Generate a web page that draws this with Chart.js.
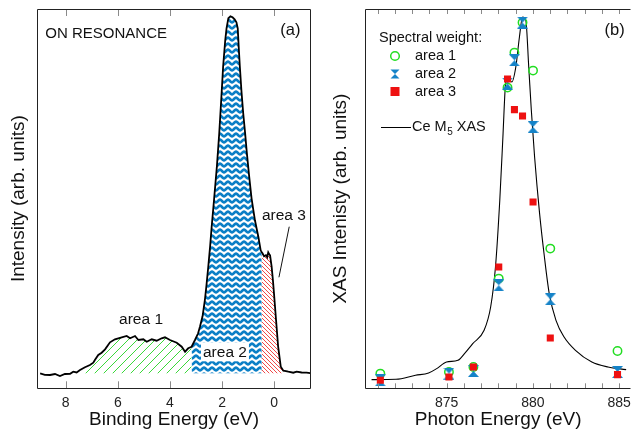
<!DOCTYPE html>
<html>
<head>
<meta charset="utf-8">
<script src="https://cdn.jsdelivr.net/npm/chart.js@4.4.0/dist/chart.umd.min.js"></script>
<style>
  body { margin: 0; background: #fff; }
  #wrap { position: relative; width: 637px; height: 435px; overflow: hidden; }
  canvas { position: absolute; top: 0; }
  #pes { left: 0; }
  #xas { left: 320px; }
</style>
</head>
<body>
<div id="wrap">
  <canvas id="pes" width="320" height="435"></canvas>
  <canvas id="xas" width="317" height="435"></canvas>
</div>
<script>
// (a) on-resonance spectrum
const bindingEnergy = [
  8.98, 8.80, 8.60, 8.41, 8.22, 8.03, 7.83, 7.71, 7.58, 7.45, 7.26, 7.07, 6.94, 6.88, 6.75, 6.62,
  6.49, 6.30, 6.11, 5.98, 5.85, 5.66, 5.53, 5.34, 5.21, 5.02, 4.89, 4.70, 4.51, 4.32, 4.19, 4.00,
  3.74, 3.55, 3.42, 3.30, 3.17, 3.04, 2.92, 2.85, 2.75, 2.66, 2.60, 2.53, 2.46, 2.40, 2.31, 2.20,
  2.11, 2.03, 1.96, 1.88, 1.83, 1.76, 1.68, 1.60, 1.52, 1.45, 1.40, 1.36, 1.32, 1.26, 1.19, 1.12,
  1.06, 0.97, 0.87, 0.80, 0.74, 0.67, 0.61, 0.52, 0.48, 0.45, 0.39, 0.32, 0.27, 0.23, 0.19, 0.16,
  0.10, 0.05, 0.01, -0.07, -0.15, -0.25, -0.35, -0.45, -0.54, -0.73, -0.86, -1.05, -1.24, -1.38
];
const intensity = [
  15, 13.5, 13.3, 14.3, 12.3, 14.3, 14.5, 16.6, 15.8, 18.3, 21, 23.3, 25.6, 28.3, 33.3, 35.6,
  39, 46, 49, 50, 51, 52.3, 50, 52.3, 48.3, 49, 46.6, 49, 47.6, 50, 51, 48.3,
  45.6, 41.6, 36.6, 40, 41.6, 48.3, 55, 61.6, 72, 88.3, 103, 121.6, 142, 161.6, 188.3, 222,
  255, 290, 322, 348, 360, 370, 372, 371, 369, 366, 360, 340, 322, 298, 275, 256,
  238, 214, 190, 178, 168, 159, 151.6, 138, 136, 135, 132, 133, 131, 136, 134, 133,
  121.6, 108, 95, 68, 41.6, 21.6, 17.6, 17.2, 16.6, 15.6, 16.6, 15.8, 15.6, 15.2
];
const pesBaseline = 15;
const area1Range = [7.26, 3.17];
const area2Range = [3.17, 0.48];
const area3Range = [0.48, -0.35];
const pesTicks = [8, 6, 4, 2, 0];

// (b) Ce M5 XAS and spectral weights
const xasEnergy = [
  870.64, 872.06, 873.19, 873.95, 874.42, 874.99, 875.65, 876.03, 876.51, 877.17, 877.55,
  877.83, 878.08, 878.27, 878.40, 878.53, 878.78, 879.01, 879.22, 879.40, 879.59, 879.76,
  879.91, 880.10, 880.39, 880.67, 880.95, 881.34, 881.81, 882.47, 883.42, 884.36, 885.41
];
const xasIntensity = [
  8.7, 9, 13, 15.3, 19.7, 26.3, 28, 34.7, 44.7, 58, 81.3,
  121.3, 188, 254.7, 301.3, 311.3, 306.3, 321.3, 351.3, 371.3, 368, 321.3,
  278, 231.3, 174.7, 131.3, 94.7, 68, 51.3, 38, 26.3, 21.3, 18.7
];
const photonEnergy = [871.15, 875.13, 876.55, 878.02, 878.53, 878.93, 879.40, 880.01, 881.01, 884.91];
const area1Weight = [14.7, 16.3, 21.3, 109.7, 300.7, 335.7, 365.7, 317.7, 139.7, 37.3];
const area2Weight = [8, 14.7, 17.3, 103, 304.7, 328, 365.7, 261.3, 89, 16.3];
const area3Weight = [8, 11.3, 21.3, 121.3, 309.3, 278.7, 272.3, 186.3, 50.3, 13.7];
const xasTicks = [875, 880, 885];
const xasMinorTicks = [871, 872, 873, 874, 875, 876, 877, 878, 879, 880, 881, 882, 883, 884, 885];

const FONT = '"Liberation Sans", Arial, Helvetica, sans-serif';
Chart.defaults.font.family = FONT;
Chart.defaults.color = '#111';
Chart.defaults.animation = false;

const GREEN = '#22dd22', BLUE = '#1583c8', RED = '#ee1111';

// fill patterns
function tilePattern(ctx, w, h, paint) {
  const c = document.createElement('canvas');
  c.width = w; c.height = h;
  paint(c.getContext('2d'), w, h);
  return ctx.createPattern(c, 'repeat');
}
const pesCtx = document.getElementById('pes').getContext('2d');
const xasCtx = document.getElementById('xas').getContext('2d');

const greenHatch = tilePattern(pesCtx, 9, 9, (g, w, h) => {
  g.strokeStyle = '#3ad83a'; g.lineWidth = 1;
  g.beginPath();
  g.moveTo(-1, h + 1); g.lineTo(w + 1, -1);
  g.moveTo(-1, 1); g.lineTo(1, -1);
  g.moveTo(w - 1, h + 1); g.lineTo(w + 1, h - 1);
  g.stroke();
});
const redHatch = tilePattern(pesCtx, 4, 4, (g, w, h) => {
  g.strokeStyle = '#f04a4a'; g.lineWidth = 1;
  g.beginPath();
  g.moveTo(-1, -1); g.lineTo(w + 1, h + 1);
  g.moveTo(w - 1, -1); g.lineTo(w + 1, 1);
  g.moveTo(-1, h - 1); g.lineTo(1, h + 1);
  g.stroke();
});
const blueWaves = tilePattern(pesCtx, 8, 6, (g, w, h) => {
  g.strokeStyle = '#0b7fc6'; g.lineWidth = 2.6;
  g.beginPath();
  for (let x = -1; x <= w + 1; x += 0.5) {
    const y = h / 2 + 1.3 * Math.cos(2 * Math.PI * x / w);
    x === -1 ? g.moveTo(x, y) : g.lineTo(x, y);
  }
  g.stroke();
});

// hourglass marker
function drawHourglass(g, cx, cy, w, h) {
  g.beginPath();
  g.moveTo(cx - w / 2, cy - h / 2); g.lineTo(cx + w / 2, cy - h / 2); g.lineTo(cx, cy);
  g.lineTo(cx + w / 2, cy + h / 2); g.lineTo(cx - w / 2, cy + h / 2); g.lineTo(cx, cy);
  g.closePath();
  g.fill();
}
const hourglass = document.createElement('canvas');
hourglass.width = 11; hourglass.height = 12;
{ const g = hourglass.getContext('2d'); g.fillStyle = BLUE; drawHourglass(g, 5.5, 6, 11, 12); }

// frame + mirrored ticks
function frame(ticks, len, right) {
  return {
    id: 'frame',
    afterDraw(chart) {
      const { ctx, chartArea: a, scales: { x } } = chart;
      ctx.save();
      ctx.strokeStyle = '#8a8a8a'; ctx.lineWidth = 1;
      ctx.beginPath();
      for (const v of ticks) {
        const px = Math.round(x.getPixelForValue(v)) + 0.5;
        ctx.moveTo(px, a.top); ctx.lineTo(px, a.top + len);
        ctx.moveTo(px, a.bottom); ctx.lineTo(px, a.bottom - len);
      }
      ctx.stroke();
      ctx.strokeStyle = '#222';
      ctx.beginPath();
      const l = Math.round(a.left) + 0.5, t = Math.round(a.top) + 0.5;
      const r = Math.round(a.right) - 0.5, b = Math.round(a.bottom) + 0.5;
      ctx.moveTo(r, t); ctx.lineTo(l, t); ctx.lineTo(l, b); ctx.lineTo(r, b);
      if (right) ctx.lineTo(r, t);
      ctx.stroke();
      ctx.restore();
    }
  };
}

function text(ctx, s, x, y, size, align) {
  ctx.font = size + 'px ' + FONT;
  ctx.textAlign = align || 'center';
  ctx.textBaseline = 'middle';
  ctx.fillStyle = '#111';
  ctx.fillText(s, x, y);
}

const pesLabels = {
  id: 'pesLabels',
  afterDraw(chart) {
    const { ctx, scales: { x, y } } = chart;
    ctx.save();
    text(ctx, 'ON RESONANCE', x.getPixelForValue(8.78), y.getPixelForValue(354), 15, 'left');
    text(ctx, '(a)', x.getPixelForValue(-0.62), y.getPixelForValue(358), 16.5);
    text(ctx, 'area 1', x.getPixelForValue(5.11), y.getPixelForValue(69), 15.5);
    // area 2 sits on a white box
    const ax = x.getPixelForValue(1.89), ay = y.getPixelForValue(36);
    ctx.font = '15.5px ' + FONT;
    const w = ctx.measureText('area 2').width;
    ctx.fillStyle = '#fff';
    ctx.fillRect(ax - w / 2 - 2, ay - 10, w + 4, 19);
    text(ctx, 'area 2', ax, ay, 15.5);
    text(ctx, 'area 3', x.getPixelForValue(-0.37), y.getPixelForValue(173), 15.5);
    ctx.strokeStyle = '#111'; ctx.lineWidth = 1;
    ctx.beginPath();
    ctx.moveTo(x.getPixelForValue(-0.575), y.getPixelForValue(161.6));
    ctx.lineTo(x.getPixelForValue(-0.18), y.getPixelForValue(111));
    ctx.stroke();
    ctx.restore();
  }
};

const pesPoints = bindingEnergy.map((e, i) => ({ x: e, y: intensity[i] }));
const slice = r => pesPoints.filter(p => p.x <= r[0] && p.x >= r[1]);
const areaSet = (r, fill) => ({
  data: slice(r), borderColor: 'transparent', borderWidth: 0, pointRadius: 0,
  backgroundColor: fill, fill: { value: pesBaseline }, order: 1
});

new Chart(pesCtx, {
  type: 'line',
  data: {
    datasets: [
      { data: pesPoints, borderColor: '#000', borderWidth: 1.8, pointRadius: 0, fill: false, order: 0 },
      areaSet(area1Range, greenHatch),
      areaSet(area2Range, blueWaves),
      areaSet(area3Range, redHatch)
    ]
  },
  options: {
    responsive: false,
    layout: { padding: { top: 9, right: 9, left: 0, bottom: 0 } },
    plugins: { legend: { display: false }, tooltip: { enabled: false } },
    scales: {
      x: {
        type: 'linear', reverse: true, min: -1.41, max: 9.1,
        grid: { display: false, drawTicks: false }, border: { display: false },
        afterBuildTicks: s => { s.ticks = pesTicks.map(v => ({ value: v })); },
        afterFit: s => { s.height = 46.7; },
        ticks: { font: { size: 14 }, color: '#222', padding: 6, maxRotation: 0, autoSkip: false },
        title: { display: true, text: 'Binding Energy (eV)', font: { size: 19 }, color: '#111', padding: { bottom: 3.6 } }
      },
      y: {
        min: 0, max: 379.3,
        grid: { display: false, drawTicks: false }, border: { display: false },
        ticks: { display: false },
        afterFit: s => { s.width = 37; },
        title: { display: true, text: 'Intensity (arb. units)', font: { size: 19 }, color: '#111', padding: { top: 7.4 } }
      }
    }
  },
  plugins: [frame(pesTicks, 7, true), pesLabels]
});

// (b)
const xasLegend = {
  id: 'xasLegend',
  afterDraw(chart) {
    const { ctx, chartArea: a, scales: { x, y } } = chart;
    ctx.save();
    text(ctx, '(b)', x.getPixelForValue(884.74), y.getPixelForValue(358), 16.5);
    const L = a.left, T = a.top;
    text(ctx, 'Spectral weight:', L + 14, T + 29, 14.5, 'left');
    // markers
    ctx.strokeStyle = GREEN; ctx.lineWidth = 1.5;
    ctx.beginPath(); ctx.arc(L + 30, T + 47, 4.3, 0, Math.PI * 2); ctx.stroke();
    ctx.fillStyle = BLUE; drawHourglass(ctx, L + 30, T + 65, 9, 9);
    ctx.fillStyle = RED; ctx.fillRect(L + 25.5, T + 78, 9, 9);
    text(ctx, 'area 1', L + 50, T + 47, 14.5, 'left');
    text(ctx, 'area 2', L + 50, T + 65, 14.5, 'left');
    text(ctx, 'area 3', L + 50, T + 83, 14.5, 'left');
    ctx.strokeStyle = '#000'; ctx.lineWidth = 1;
    ctx.beginPath(); ctx.moveTo(L + 16, T + 118.5); ctx.lineTo(L + 46, T + 118.5); ctx.stroke();
    ctx.font = '14.5px ' + FONT;
    let cx = L + 47;
    text(ctx, 'Ce M', cx, T + 118, 14.5, 'left');
    cx += ctx.measureText('Ce M').width;
    text(ctx, '5', cx + 0.5, T + 123, 10, 'left');
    ctx.font = '10px ' + FONT;
    cx += ctx.measureText('5').width + 0.5;
    text(ctx, ' XAS', cx, T + 118, 14.5, 'left');
    ctx.restore();
  }
};

const pts = w => photonEnergy.map((e, i) => ({ x: e, y: w[i] }));

new Chart(xasCtx, {
  type: 'scatter',
  data: {
    datasets: [
      { data: pts(area3Weight), pointStyle: 'rect', pointRadius: 5, backgroundColor: RED, borderWidth: 0, order: 0 },
      { data: pts(area2Weight), pointStyle: hourglass, order: 1 },
      { data: pts(area1Weight), pointStyle: 'circle', pointRadius: 4.2, borderColor: GREEN, borderWidth: 1.5, backgroundColor: 'transparent', order: 2 },
      {
        data: xasEnergy.map((e, i) => ({ x: e, y: xasIntensity[i] })),
        showLine: true, borderColor: '#000', borderWidth: 1.1, pointRadius: 0,
        cubicInterpolationMode: 'monotone', order: 3
      }
    ]
  },
  options: {
    responsive: false,
    layout: { padding: { top: 9, right: 0, left: 0, bottom: 0 } },
    plugins: { legend: { display: false }, tooltip: { enabled: false } },
    scales: {
      x: {
        type: 'linear', min: 870.26, max: 885.71,
        grid: { display: false, drawTicks: false }, border: { display: false },
        afterBuildTicks: s => { s.ticks = xasTicks.map(v => ({ value: v })); },
        afterFit: s => { s.height = 46.7; },
        ticks: { font: { size: 14 }, color: '#222', padding: 6, maxRotation: 0, autoSkip: false },
        title: { display: true, text: 'Photon Energy (eV)', font: { size: 19 }, color: '#111', padding: { bottom: 3.6 } }
      },
      y: {
        min: 0, max: 379.3,
        grid: { display: false, drawTicks: false }, border: { display: false },
        ticks: { display: false },
        afterFit: s => { s.width = 45; },
        title: { display: true, text: 'XAS Intenisty (arb. units)', font: { size: 19 }, color: '#111', padding: { top: 9 } }
      }
    }
  },
  plugins: [frame(xasMinorTicks, 5, false), xasLegend]
});
</script>
</body>
</html>
